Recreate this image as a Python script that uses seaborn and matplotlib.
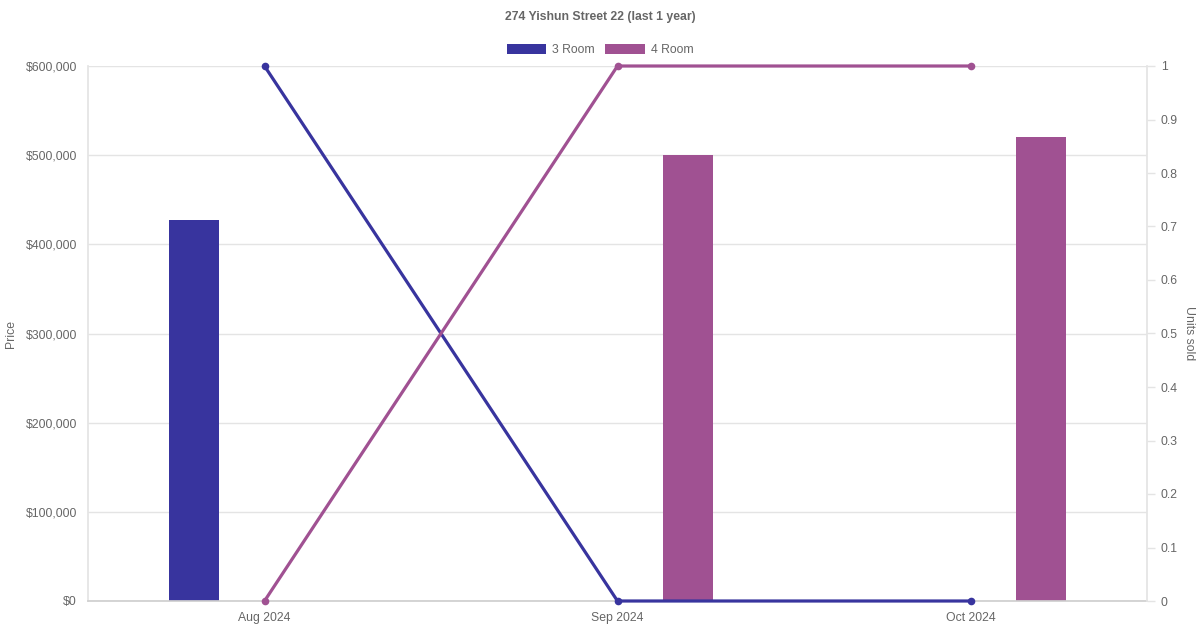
import numpy as np
import pandas as pd
import seaborn as sns
import matplotlib.pyplot as plt
from matplotlib.patches import Patch
from matplotlib.ticker import FuncFormatter, MultipleLocator

months = ["Aug 2024", "Sep 2024", "Oct 2024"]
room_types = ["3 Room", "4 Room"]
price_3room = [427000, np.nan, np.nan]
price_4room = [np.nan, 500000, 520000]
units_3room = [1, 0, 0]
units_4room = [0, 1, 1]

colors = {"3 Room": "#38349e", "4 Room": "#a05192"}
grey = "#666666"
fs = 8.8

sns.set_theme(style="white")
plt.rcParams["font.family"] = ["Liberation Sans", "DejaVu Sans"]

prices = pd.DataFrame({
    "month": months * 2,
    "room": ["3 Room"] * 3 + ["4 Room"] * 3,
    "price": price_3room + price_4room,
})
units = pd.DataFrame({
    "pos": list(range(len(months))) * 2,
    "room": ["3 Room"] * 3 + ["4 Room"] * 3,
    "units": units_3room + units_4room,
})

fig = plt.figure(figsize=(12, 6.3), dpi=100)
ax = fig.add_axes([88 / 1200, 29 / 630, 1059 / 1200, 535 / 630])

sns.barplot(data=prices, x="month", y="price", hue="room", hue_order=room_types,
            palette=colors, order=months, width=0.8, dodge=True, ax=ax,
            legend=False, saturation=1, errorbar=None)

# chart.js style: thin bars centred in their slot
bar_w = 50 / 353
for p in ax.patches:
    cx = p.get_x() + p.get_width() / 2
    p.set_width(bar_w)
    p.set_x(cx - bar_w / 2)
    p.set_edgecolor("none")

ax.set_xlim(-0.5, 2.5)
ax.set_ylim(0, 600000)
ax.yaxis.set_major_locator(MultipleLocator(100000))
ax.yaxis.set_major_formatter(FuncFormatter(lambda v, _: f"${v:,.0f}"))
ax.grid(axis="y", color="#e4e4e4", linewidth=1)
ax.set_axisbelow(True)
ax.set_xlabel("")
ax.set_ylabel("Price", color=grey, fontsize=fs, va="center", ha="center")
ax.yaxis.set_label_coords(-77 / 1059, 0.5)
ax.tick_params(axis="y", labelcolor=grey, labelsize=fs, length=0, pad=8, left=True)
ax.tick_params(axis="x", labelcolor=grey, labelsize=fs, length=0, pad=8)
for side in ["top", "right"]:
    ax.spines[side].set_visible(False)
ax.spines["left"].set_color("#e4e4e4")
ax.spines["bottom"].set_color("#cfcfcf")

ax2 = ax.twinx()
sns.lineplot(data=units, x="pos", y="units", hue="room", hue_order=room_types,
             palette=colors, ax=ax2, linewidth=2.3, marker="o", markersize=5.5,
             markeredgewidth=0, legend=False, clip_on=False)
ax2.set_xlim(-0.5, 2.5)
ax2.set_ylim(0, 1)
ax2.yaxis.set_major_locator(MultipleLocator(0.1))
ax2.yaxis.set_major_formatter(FuncFormatter(lambda v, _: f"{v:g}"))
ax2.set_ylabel("Units sold", color=grey, fontsize=fs, rotation=270,
               va="center", ha="center")
ax2.yaxis.set_label_coords(1 + 42 / 1059, 0.5)
ax2.tick_params(axis="y", colors="#e4e4e4", labelcolor=grey, labelsize=fs,
                length=6, width=1, pad=4, right=True)
for side in ["top", "left", "bottom"]:
    ax2.spines[side].set_visible(False)
ax2.spines["right"].set_color("#e4e4e4")
ax2.grid(False)

fig.text(0.5, 1 - 17 / 630, "274 Yishun Street 22 (last 1 year)", ha="center",
         va="center", fontsize=fs, fontweight="bold", color=grey)

handles = [Patch(facecolor=colors[r], edgecolor="none", label=r) for r in room_types]
fig.legend(handles=handles, loc="center", bbox_to_anchor=(0.5, 1 - 50 / 630),
           ncol=2, frameon=False, fontsize=fs, labelcolor=grey,
           handlelength=3.25, handleheight=0.9, handletextpad=0.5,
           columnspacing=0.8, borderpad=0)

fig.savefig("out.png", dpi=100)
